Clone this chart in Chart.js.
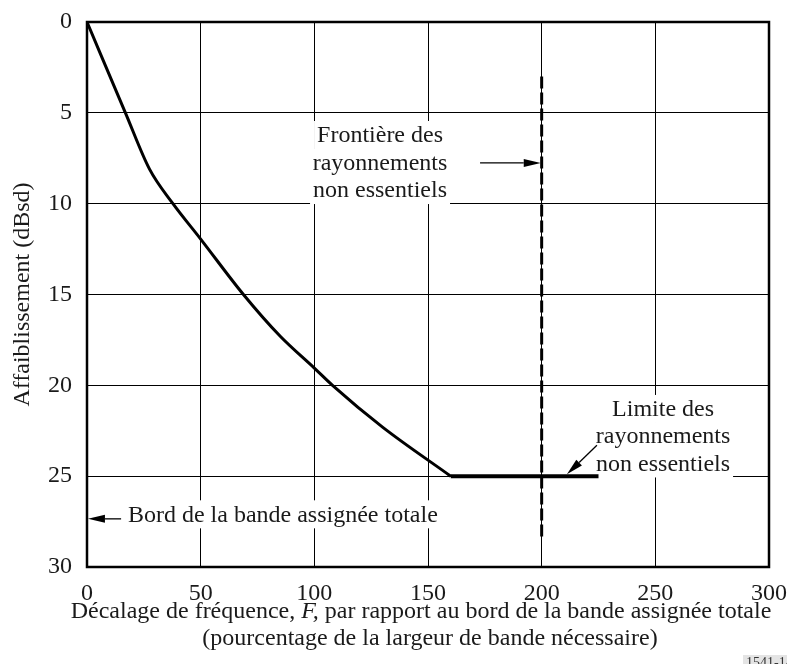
<!DOCTYPE html>
<html>
<head>
<meta charset="utf-8">
<script src="https://cdn.jsdelivr.net/npm/chart.js@4.4.1/dist/chart.umd.min.js"></script>
<style>
body { margin: 0; background: #fff; }
#chart { display: block; }
</style>
</head>
<body>
<canvas id="chart" width="787" height="664"></canvas>
<script>
// mask curve (frequency offset % vs attenuation dBsd)
const freqOffset = [0, 16.9, 27.5, 37.8, 50, 68.8, 85, 100, 108, 130, 160];
const attenuation = [0, 5, 8.1, 10, 11.95, 15, 17.3, 19.05, 20, 22.3, 25];
// spurious emission limit
const limitOffset = [160, 225];
const limitLevel = [25, 25];
// spurious domain boundary
const boundaryOffset = [200, 200];
const boundaryLevel = [3, 28.5];

const xTicks = [0, 50, 100, 150, 200, 250, 300];
const yTicks = [0, 5, 10, 15, 20, 25, 30];

const serif = '"Liberation Serif", "Times New Roman", serif';
const ink = '#1a1a1a';
const fontSize = 24;

function toPoints(xs, ys) {
    return xs.map((x, i) => ({ x: x, y: ys[i] }));
}

function textBlock(ctx, lines, cx, ys, align) {
    ctx.font = fontSize + 'px ' + serif;
    ctx.textBaseline = 'middle';
    ctx.textAlign = align;
    lines.forEach((t, i) => {
        const w = ctx.measureText(t).width;
        const left = align === 'center' ? cx - w / 2 : cx;
        ctx.fillStyle = '#fff';
        ctx.fillRect(left - 3, ys[i] - 14, w + 6, 28);
    });
    ctx.fillStyle = ink;
    lines.forEach((t, i) => ctx.fillText(t, cx, ys[i] + 1));
}

function arrow(ctx, x1, y1, x2, y2) {
    const a = Math.atan2(y2 - y1, x2 - x1);
    const len = 17, half = 4;
    const bx = x2 - Math.cos(a) * len, by = y2 - Math.sin(a) * len;
    ctx.strokeStyle = '#000';
    ctx.lineWidth = 1.3;
    ctx.beginPath();
    ctx.moveTo(x1, y1);
    ctx.lineTo(bx, by);
    ctx.stroke();
    ctx.beginPath();
    ctx.moveTo(x2, y2);
    ctx.lineTo(bx + half * Math.sin(a), by - half * Math.cos(a));
    ctx.lineTo(bx - half * Math.sin(a), by + half * Math.cos(a));
    ctx.closePath();
    ctx.fillStyle = '#000';
    ctx.fill();
}

const decorations = {
    id: 'decorations',
    beforeDatasetsDraw(chart) {
        const ctx = chart.ctx;
        const sx = v => chart.scales.x.getPixelForValue(v);
        const sy = v => chart.scales.y.getPixelForValue(v);
        ctx.save();
        textBlock(ctx, ['Frontière des', 'rayonnements', 'non essentiels'],
            sx(128.9), [sy(6.22), sy(7.76), sy(9.25)], 'center');
        textBlock(ctx, ['Limite des', 'rayonnements', 'non essentiels'],
            sx(253.4), [sy(21.3), sy(22.8), sy(24.3)], 'center');
        textBlock(ctx, ['Bord de la bande assignée totale'],
            sx(18), [sy(27.1)], 'left');
        ctx.restore();
    },
    afterDraw(chart) {
        const ctx = chart.ctx;
        const area = chart.chartArea;
        const sx = v => chart.scales.x.getPixelForValue(v);
        const sy = v => chart.scales.y.getPixelForValue(v);
        ctx.save();
        arrow(ctx, sx(172.9), sy(7.76), sx(199.6), sy(7.76));
        arrow(ctx, sx(224.3), sy(23.3), sx(211.1), sy(24.9));
        arrow(ctx, sx(15), sy(27.35), sx(0.4), sy(27.35));

        // plot frame
        ctx.strokeStyle = '#000';
        ctx.lineWidth = 2.5;
        ctx.strokeRect(area.left, area.top, area.right - area.left, area.bottom - area.top);

        // x axis title, with italic F
        const parts = [
            ['Décalage de fréquence, ', ''],
            ['F,', 'italic '],
            [' par rapport au bord de la bande assignée totale', '']
        ];
        ctx.textBaseline = 'middle';
        ctx.textAlign = 'left';
        ctx.fillStyle = ink;
        let total = 0;
        parts.forEach(p => { ctx.font = p[1] + fontSize + 'px ' + serif; total += ctx.measureText(p[0]).width; });
        const mid = (area.left + area.right) / 2;
        let x = mid - 7 - total / 2;
        const y1 = area.bottom + 45;
        parts.forEach(p => {
            ctx.font = p[1] + fontSize + 'px ' + serif;
            ctx.fillText(p[0], x, y1);
            x += ctx.measureText(p[0]).width;
        });
        ctx.font = fontSize + 'px ' + serif;
        ctx.textAlign = 'center';
        ctx.fillText('(pourcentage de la largeur de bande nécessaire)', mid + 2, area.bottom + 72);

        // figure reference tag
        ctx.font = '14px ' + serif;
        ctx.textAlign = 'left';
        ctx.textBaseline = 'top';
        const tw = ctx.measureText('1541-14').width;
        ctx.fillStyle = '#e4e4e4';
        ctx.fillRect(743, 655, tw + 6, 12);
        ctx.fillStyle = '#333';
        ctx.fillText('1541-14', 746, 656);
        ctx.restore();
    }
};

const ctx = document.getElementById('chart').getContext('2d');
const maskChart = new Chart(ctx, {
    type: 'line',
    data: {
        datasets: [{
            label: 'Masque',
            data: toPoints(freqOffset, attenuation),
            borderColor: '#000',
            borderWidth: 3,
            pointRadius: 0,
            cubicInterpolationMode: 'monotone',
            fill: false
        }, {
            label: 'Limite',
            data: toPoints(limitOffset, limitLevel),
            borderColor: '#000',
            borderWidth: 4,
            pointRadius: 0,
            fill: false
        }, {
            label: 'Frontière',
            data: toPoints(boundaryOffset, boundaryLevel),
            borderColor: '#000',
            borderWidth: 3,
            borderDash: [12, 4],
            pointRadius: 0,
            fill: false
        }]
    },
    options: {
        responsive: false,
        animation: false,
        devicePixelRatio: 1,
        layout: {
            padding: { left: 0, right: 18, top: 22, bottom: 0 }
        },
        plugins: {
            legend: { display: false },
            tooltip: { enabled: false }
        },
        scales: {
            x: {
                type: 'linear',
                min: 0,
                max: 300,
                afterBuildTicks: s => { s.ticks = xTicks.map(v => ({ value: v })); },
                afterFit: s => { s.height = 97; s.paddingLeft = 0; s.paddingRight = 0; },
                grid: { color: '#000', lineWidth: 1, drawTicks: false },
                border: { display: false },
                ticks: {
                    color: ink,
                    padding: 12,
                    maxRotation: 0,
                    font: { family: serif, size: fontSize }
                }
            },
            y: {
                type: 'linear',
                reverse: true,
                min: 0,
                max: 30,
                afterBuildTicks: s => { s.ticks = yTicks.map(v => ({ value: v })); },
                afterFit: s => { s.width = 87; s.paddingTop = 0; s.paddingBottom = 0; },
                grid: { color: '#000', lineWidth: 1, drawTicks: false },
                border: { display: false },
                ticks: {
                    color: ink,
                    padding: 15,
                    font: { family: serif, size: fontSize }
                },
                title: {
                    display: true,
                    text: 'Affaiblissement (dBsd)',
                    color: ink,
                    padding: { top: 8, bottom: 0 },
                    font: { family: serif, size: fontSize }
                }
            }
        }
    },
    plugins: [decorations]
});
</script>
</body>
</html>
